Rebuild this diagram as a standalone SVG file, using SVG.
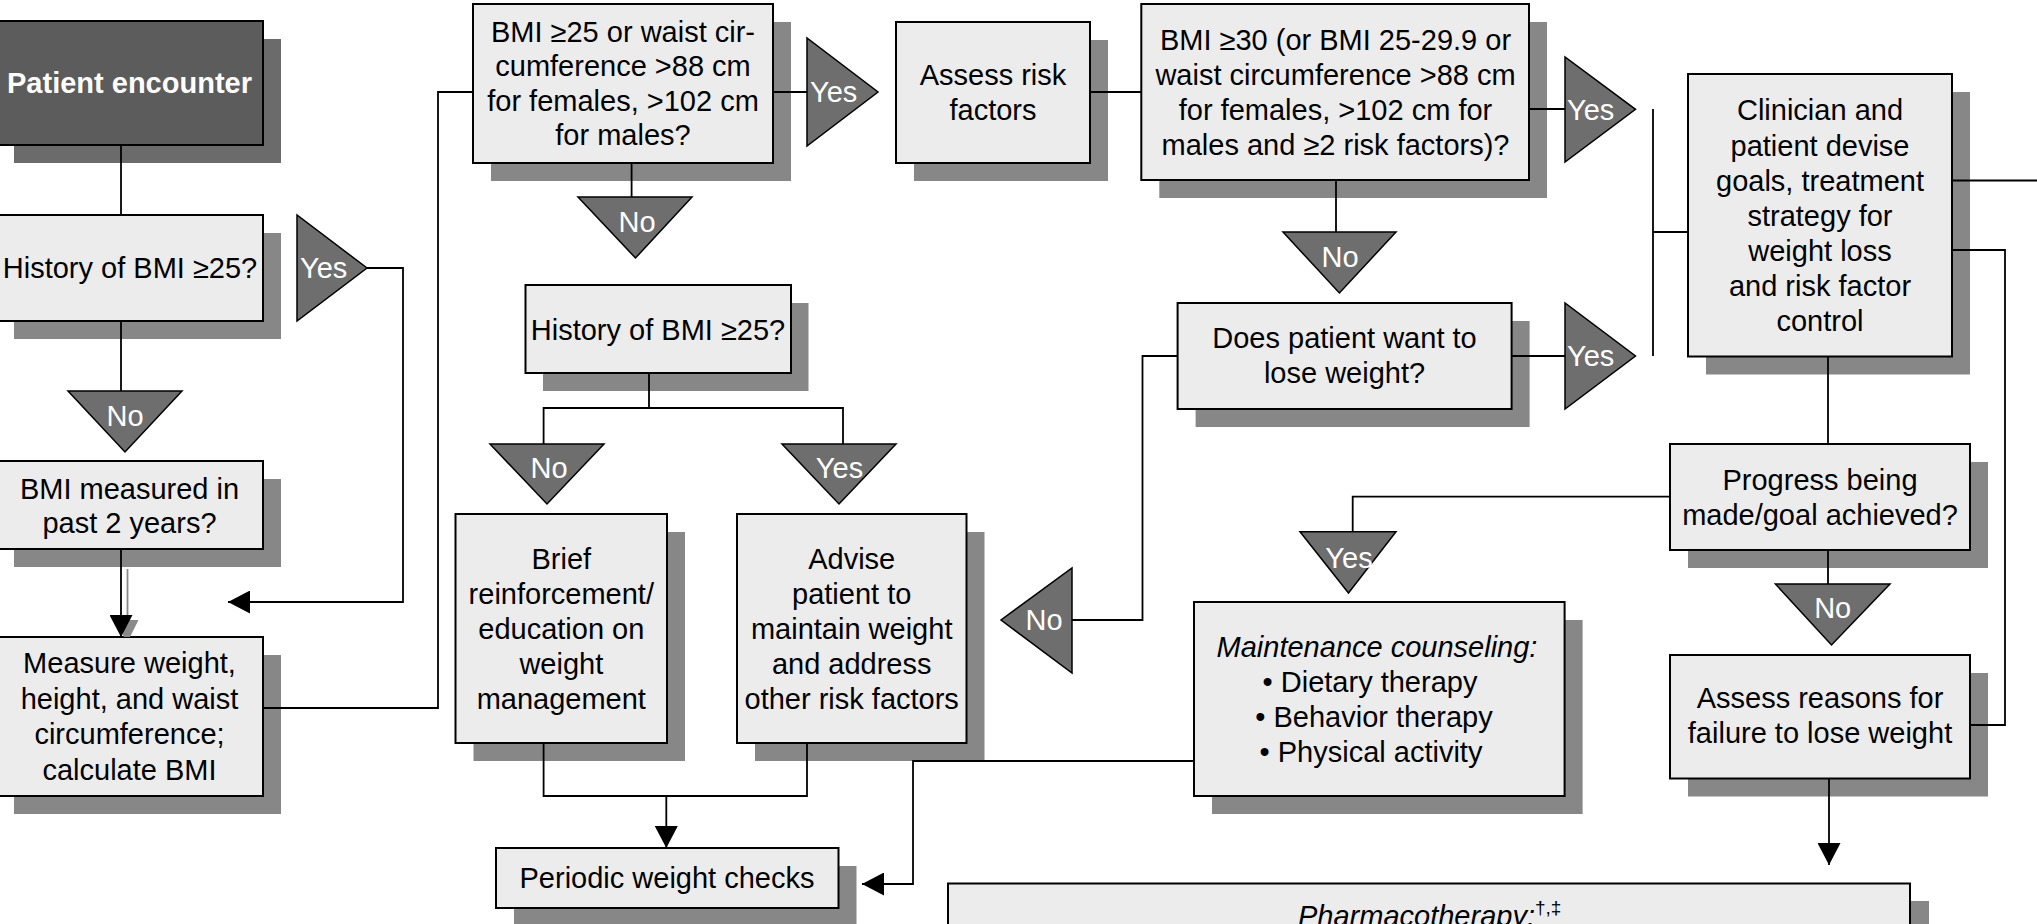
<svg xmlns="http://www.w3.org/2000/svg" width="2037" height="924" viewBox="0 0 2037 924">
<style>
.box{fill:#ececec;stroke:#000;stroke-width:2}
.sh{fill:#878787}
.tri{fill:#6e6e6e;stroke:#000;stroke-width:1.5}
.t{font-family:"Liberation Sans",Arial,Helvetica,sans-serif;font-size:29px;text-anchor:middle;fill:#000}
.tw{font-family:"Liberation Sans",Arial,Helvetica,sans-serif;font-size:29px;text-anchor:middle;fill:#fff}
.ts{text-anchor:start}
.conn{fill:none;stroke:#000;stroke-width:1.8}
</style>
<defs>
<marker id="ah" markerUnits="userSpaceOnUse" markerWidth="23" markerHeight="23" refX="22" refY="11.5" orient="auto">
<path d="M0,0 L22,11.5 L0,23 z" fill="#000"/>
</marker>
</defs>
<rect width="2037" height="924" fill="#fff"/>

<g id="patient-encounter">
<rect x="14" y="39" width="267" height="124" fill="#6b6b6b"/>
<rect x="-4" y="21" width="267" height="124" fill="#5c5c5c" stroke="#000" stroke-width="2"/>
<text class="tw" x="129.5" y="93" font-weight="bold">Patient encounter</text>
</g>

<g id="history-bmi-1">
<rect class="sh" x="14" y="233" width="267" height="106"/>
<rect class="box" x="-4" y="215" width="267" height="106"/>
<text class="t" x="130" y="278">History of BMI ≥25?</text>
</g>

<g id="yes-1">
<polygon class="tri" points="297,215 297,321 367,268"/>
<text class="tw ts" x="300" y="278">Yes</text>
</g>

<g id="no-1">
<polygon class="tri" points="68,391 182,391 125,452"/>
<text class="tw" x="125" y="426">No</text>
</g>

<g id="bmi-measured">
<rect class="sh" x="14" y="479" width="267" height="88"/>
<rect class="box" x="-4" y="461" width="267" height="88"/>
<text class="t" x="129.5" y="499">BMI measured in</text>
<text class="t" x="129.5" y="533">past 2 years?</text>
</g>

<g id="measure">
<rect class="sh" x="14" y="655" width="267" height="159"/>
<rect class="box" x="-4" y="637" width="267" height="159"/>
<text class="t" x="129.5" y="673">Measure weight,</text>
<text class="t" x="129.5" y="708.5">height, and waist</text>
<text class="t" x="129.5" y="744">circumference;</text>
<text class="t" x="129.5" y="779.5">calculate BMI</text>
</g>

<g id="bmi25-waist">
<rect class="sh" x="491" y="22" width="300" height="159"/>
<rect class="box" x="473" y="4" width="300" height="159"/>
<text class="t" x="623" y="41.5">BMI ≥25 or waist cir-</text>
<text class="t" x="623" y="76">cumference &gt;88 cm</text>
<text class="t" x="623" y="110.5">for females, &gt;102 cm</text>
<text class="t" x="623" y="145">for males?</text>
</g>

<g id="yes-2">
<polygon class="tri" points="807,38 807,146 878,92"/>
<text class="tw ts" x="810" y="102">Yes</text>
</g>

<g id="assess-risk">
<rect class="sh" x="914" y="40" width="194" height="141"/>
<rect class="box" x="896" y="22" width="194" height="141"/>
<text class="t" x="993" y="85">Assess risk</text>
<text class="t" x="993" y="120">factors</text>
</g>

<g id="no-3">
<polygon class="tri" points="578,197 692,197 635.5,258"/>
<text class="tw" x="637" y="232">No</text>
</g>

<g id="history-bmi-2">
<rect class="sh" x="543" y="303" width="265.5" height="88"/>
<rect class="box" x="525.5" y="285" width="265.5" height="88"/>
<text class="t" x="658" y="340">History of BMI ≥25?</text>
</g>

<g id="no-4">
<polygon class="tri" points="490,444 604,444 547,504"/>
<text class="tw" x="549" y="478">No</text>
</g>

<g id="yes-5">
<polygon class="tri" points="782,444 896,444 839,504"/>
<text class="tw" x="839.5" y="478">Yes</text>
</g>

<g id="brief">
<rect class="sh" x="473.5" y="532" width="211.5" height="229"/>
<rect class="box" x="455.5" y="514" width="211.5" height="229"/>
<text class="t" x="561.3" y="569">Brief</text>
<text class="t" x="561.3" y="604">reinforcement/</text>
<text class="t" x="561.3" y="639">education on</text>
<text class="t" x="561.3" y="674">weight</text>
<text class="t" x="561.3" y="709">management</text>
</g>

<g id="advise">
<rect class="sh" x="755" y="532" width="229.5" height="229"/>
<rect class="box" x="737" y="514" width="229.5" height="229"/>
<text class="t" x="851.7" y="569">Advise</text>
<text class="t" x="851.7" y="604">patient to</text>
<text class="t" x="851.7" y="639">maintain weight</text>
<text class="t" x="851.7" y="674">and address</text>
<text class="t" x="851.7" y="709">other risk factors</text>
</g>

<g id="periodic">
<rect class="sh" x="514" y="866" width="342.5" height="60"/>
<rect class="box" x="496" y="848" width="342.5" height="60"/>
<text class="t" x="667" y="888">Periodic weight checks</text>
</g>

<g id="no-left">
<polygon class="tri" points="1072,568 1072,673 1001,620"/>
<text class="tw" x="1044" y="630">No</text>
</g>

<g id="bmi30">
<rect class="sh" x="1159.3" y="22" width="387.7" height="176"/>
<rect class="box" x="1141.3" y="4" width="387.7" height="176"/>
<text class="t" x="1335.5" y="50">BMI ≥30 (or BMI 25-29.9 or</text>
<text class="t" x="1335.5" y="85">waist circumference &gt;88 cm</text>
<text class="t" x="1335.5" y="120">for females, &gt;102 cm for</text>
<text class="t" x="1335.5" y="155">males and ≥2 risk factors)?</text>
</g>

<g id="yes-bmi30">
<polygon class="tri" points="1565,57 1565,162 1635.5,109.3"/>
<text class="tw ts" x="1567" y="120">Yes</text>
</g>

<g id="no-bmi30">
<polygon class="tri" points="1283,232 1396,232 1339.4,293"/>
<text class="tw" x="1340" y="267">No</text>
</g>

<g id="does-patient">
<rect class="sh" x="1195.6" y="321" width="334" height="106"/>
<rect class="box" x="1177.6" y="303" width="334" height="106"/>
<text class="t" x="1344.5" y="348">Does patient want to</text>
<text class="t" x="1344.5" y="383">lose weight?</text>
</g>

<g id="yes-does">
<polygon class="tri" points="1565,303 1565,409 1635.5,356"/>
<text class="tw ts" x="1567" y="366">Yes</text>
</g>

<g id="clinician">
<rect class="sh" x="1706" y="92" width="264" height="282.5"/>
<rect class="box" x="1688" y="74" width="264" height="282.5"/>
<text class="t" x="1820" y="120">Clinician and</text>
<text class="t" x="1820" y="155.5">patient devise</text>
<text class="t" x="1820" y="190.5">goals, treatment</text>
<text class="t" x="1820" y="226">strategy for</text>
<text class="t" x="1820" y="261">weight loss</text>
<text class="t" x="1820" y="296">and risk factor</text>
<text class="t" x="1820" y="331">control</text>
</g>

<g id="progress">
<rect class="sh" x="1688" y="462" width="300" height="106"/>
<rect class="box" x="1670" y="444" width="300" height="106"/>
<text class="t" x="1820" y="490">Progress being</text>
<text class="t" x="1820" y="525">made/goal achieved?</text>
</g>

<g id="yes-progress">
<polygon class="tri" points="1300,531.7 1396,531.7 1348.5,593"/>
<text class="tw" x="1349" y="568">Yes</text>
</g>

<g id="no-progress">
<polygon class="tri" points="1775.4,584 1890,584 1831.5,645"/>
<text class="tw" x="1832.7" y="618">No</text>
</g>

<g id="maintenance">
<rect class="sh" x="1212" y="620" width="370.6" height="194"/>
<rect class="box" x="1194" y="602" width="370.6" height="194"/>
<text class="t" x="1377" y="657" font-style="italic">Maintenance counseling:</text>
<text class="t" x="1370" y="692">• Dietary therapy</text>
<text class="t" x="1374" y="727">• Behavior therapy</text>
<text class="t" x="1371" y="762">• Physical activity</text>
</g>

<g id="assess-reasons">
<rect class="sh" x="1688" y="673" width="300" height="123.5"/>
<rect class="box" x="1670" y="655" width="300" height="123.5"/>
<text class="t" x="1820" y="708">Assess reasons for</text>
<text class="t" x="1820" y="743">failure to lose weight</text>
</g>

<g id="pharmacotherapy">
<rect class="sh" x="966" y="901" width="963" height="60"/>
<rect class="box" x="948" y="883.5" width="962" height="60"/>
<text class="t ts" x="1298" y="926" font-style="italic">Pharmacotherapy:<tspan font-size="19" dy="-12" font-style="normal">†,‡</tspan></text>
</g>

<g id="connectors">
<path class="conn" d="M121,145 V215"/>
<path class="conn" d="M121,321 V391"/>
<path d="M127.5,569 V622" stroke="#8a8a8a" stroke-width="1.8" fill="none"/>
<polygon points="115.5,620 138.5,620 130,637 124,637" fill="#8a8a8a"/>
<path class="conn" d="M121,549 V637" marker-end="url(#ah)"/>
<path class="conn" d="M367,268 H403 V602 H228" marker-end="url(#ah)"/>
<path class="conn" d="M263,708 H438 V92 H473"/>
<path class="conn" d="M773,92 H807"/>
<path class="conn" d="M1090,92 H1141.3"/>
<path class="conn" d="M631.6,163 V197"/>
<path class="conn" d="M649,373 V408"/>
<path class="conn" d="M543.6,444 V408 H843 V444"/>
<path class="conn" d="M543.6,743 V796 H807 V743"/>
<path class="conn" d="M666.3,796 V848" marker-end="url(#ah)"/>
<path class="conn" d="M1177.6,356 H1142.5 V620 H1072"/>
<path class="conn" d="M1194,761 H913 V884 H862" marker-end="url(#ah)"/>
<path class="conn" d="M1529,109 H1565"/>
<path class="conn" d="M1336,180 V232"/>
<path class="conn" d="M1511.5,356 H1565"/>
<path class="conn" d="M1653,109 V356"/>
<path class="conn" d="M1653,232 H1688"/>
<path class="conn" d="M1952,180.5 H2037"/>
<path class="conn" d="M1952,250 H2005 V725 H1970"/>
<path class="conn" d="M1828,356.5 V444"/>
<path class="conn" d="M1670,496.7 H1352.7 V531.7"/>
<path class="conn" d="M1828,550 V584"/>
<path class="conn" d="M1829,778.5 V865" marker-end="url(#ah)"/>
</g>
</svg>
